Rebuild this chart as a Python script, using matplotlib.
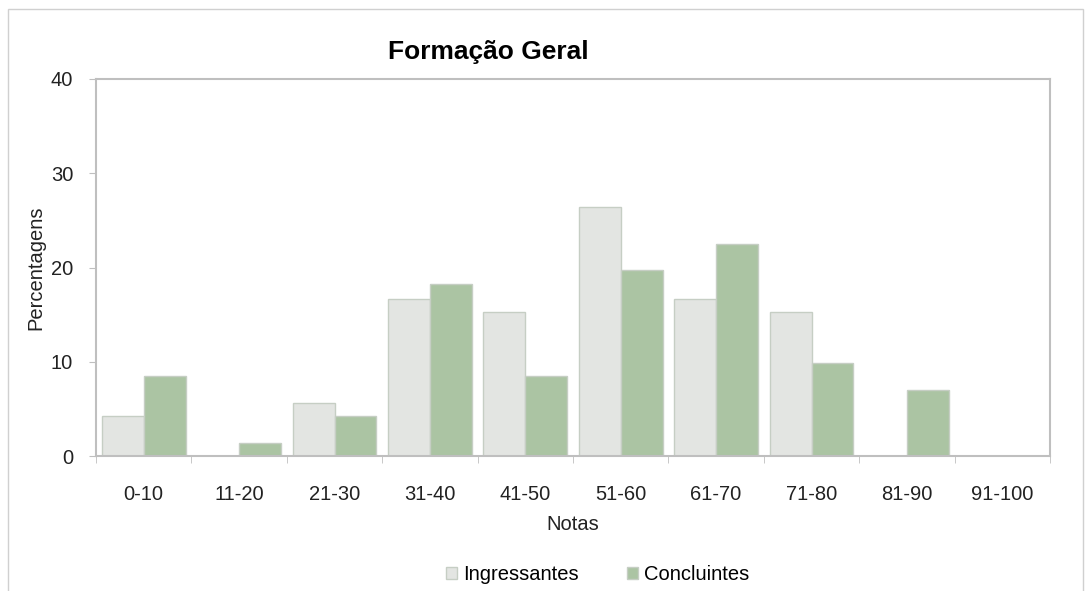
import numpy as np
import matplotlib
matplotlib.use('Agg')
from matplotlib import pyplot as plt
from matplotlib.patches import Rectangle

categories = ['0-10', '11-20', '21-30', '31-40', '41-50', '51-60',
              '61-70', '71-80', '81-90', '91-100']
ingressantes = [4.2, 0, 5.6, 16.7, 15.3, 26.4, 16.7, 15.3, 0, 0]
concluintes = [8.5, 1.4, 4.2, 18.3, 8.5, 19.7, 22.5, 9.9, 7.0, 0]

plt.rcParams['font.family'] = ['Liberation Sans', 'DejaVu Sans']

fs = 14.5
fig = plt.figure(figsize=(10.9, 5.91), dpi=100)
ax = fig.add_axes([96/1090, 1-456/591, 954/1090, 377/591])

x = np.arange(len(categories))
w = 0.44
ax.bar(x - w/2, ingressantes, w, color='#E3E5E2', edgecolor='#C6CEC4',
       linewidth=1, label='Ingressantes')
ax.bar(x + w/2, concluintes, w, color='#ABC4A3', edgecolor='#C6CEC4',
       linewidth=1, label='Concluintes')

ax.set_xlim(-0.5, len(categories) - 0.5)
ax.set_ylim(0, 40)
ax.set_yticks([0, 10, 20, 30, 40])
ax.set_xticks(x)
ax.set_xticklabels(categories)
ax.set_xticks(np.arange(len(categories) + 1) - 0.5, minor=True)
ax.tick_params(axis='x', which='major', length=0, pad=21, labelsize=fs,
               colors='#222222')
ax.tick_params(axis='x', which='minor', length=5, color='#BFBFBF',
               direction='out')
ax.tick_params(axis='y', length=5, color='#BFBFBF', labelsize=fs,
               colors='#222222', pad=11.5)
for s in ['left', 'top', 'right', 'bottom']:
    ax.spines[s].set_color('#BFBFBF')
    ax.spines[s].set_linewidth(1.5)

ax.set_xlabel('Notas', fontsize=fs, color='#222222', labelpad=7.5)
ax.set_ylabel('Percentagens', fontsize=fs, color='#222222', labelpad=4)
fig.text(488/1090, 1-52/591, 'Formação Geral', fontsize=19,
         fontweight='bold', ha='center', va='center')

fig.legend(loc='center', bbox_to_anchor=(598/1090, 1-575/591), ncol=2,
           frameon=False, fontsize=fs, handlelength=0.55, handleheight=0.55,
           handletextpad=0.3, columnspacing=2.4)

fig.patches.append(Rectangle((8/1090, -0.01), 1075/1090, 1-9/591 + 0.01,
                             transform=fig.transFigure, fill=False,
                             edgecolor='#D0D0D0', linewidth=1))

fig.savefig('out.png', dpi=100)
